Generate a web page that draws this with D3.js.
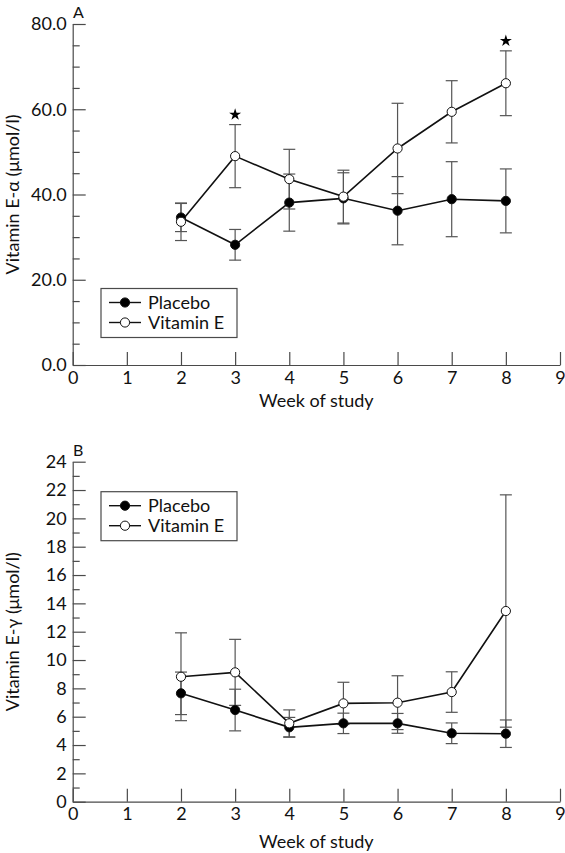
<!DOCTYPE html>
<html>
<head>
<meta charset="utf-8">
<script src="https://cdn.jsdelivr.net/npm/d3@7"></script>
<style>
  html, body { margin: 0; padding: 0; background: #fff; }
  svg { display: block; }
  text { font-family: Lato, "Open Sans", sans-serif; fill: #111; }
</style>
</head>
<body>
<script>
// ---- data ----
const weeks = [2, 3, 4, 5, 6, 7, 8];
const xTicks = [0, 1, 2, 3, 4, 5, 6, 7, 8, 9];

// Panel A: vitamin E-alpha (µmol/l), mean and SD
const alphaPlacebo   = [34.6, 28.2, 38.1, 39.1, 36.2, 38.9, 38.5];
const alphaPlaceboSD = [3.3, 3.6, 6.7, 6.0, 8.0, 8.8, 7.5];
const alphaVitE      = [33.6, 49.0, 43.6, 39.5, 50.8, 59.4, 66.1];
const alphaVitESD    = [4.4, 7.4, 7.0, 6.2, 10.6, 7.3, 7.6];
const alphaSignificantWeeks = [3, 8];
const alphaTicks = [0, 20, 40, 60, 80];
const alphaMinorTicks = [5, 10, 15, 25, 30, 35, 45, 50, 55, 65, 70, 75];

// Panel B: vitamin E-gamma (µmol/l), mean and SD
const gammaPlacebo   = [7.65, 6.47, 5.25, 5.53, 5.53, 4.83, 4.80];
const gammaPlaceboSD = [1.5, 1.47, 0.7, 0.72, 0.7, 0.73, 0.97];
const gammaVitE      = [8.82, 9.13, 5.53, 6.94, 6.99, 7.74, 13.46];
const gammaVitESD    = [3.1, 2.33, 0.95, 1.49, 1.9, 1.43, 8.2];
const gammaTicks = [0, 2, 4, 6, 8, 10, 12, 14, 16, 18, 20, 22, 24];
const gammaMinorTicks = [1, 3, 5, 7, 9, 11, 13, 15, 17, 19, 21, 23];

const seriesNames = ["Placebo", "Vitamin E"];

// ---- drawing ----
const W = 565, H = 853;
const svg = d3.select("body").append("svg").attr("width", W).attr("height", H);

const axisColor = "#4a4a4a";
const x = d3.scaleLinear().domain([0, 9]).range([72.7, 560]);

function panel(cfg) {
  const g = svg.append("g");
  const y = d3.scaleLinear().domain(cfg.domain).range(cfg.range);

  // minor ticks
  g.append("g").attr("transform", `translate(${x(0)},0)`)
    .call(d3.axisLeft(y).tickValues(cfg.minor).tickSize(-7).tickFormat(""))
    .call(s => s.select(".domain").remove())
    .call(s => s.selectAll("line").attr("stroke", axisColor).attr("stroke-width", 1.2));

  // major y axis
  g.append("g").attr("transform", `translate(${x(0)},0)`)
    .call(d3.axisLeft(y).tickValues(cfg.ticks).tickSizeInner(-13).tickSizeOuter(0)
      .tickPadding(6).tickFormat(cfg.fmt))
    .call(s => s.select(".domain").attr("stroke", axisColor).attr("stroke-width", 1.2))
    .call(s => s.selectAll("line").attr("stroke", axisColor).attr("stroke-width", 1.2))
    .call(s => s.selectAll("text").attr("font-size", 18).attr("fill", "#111")
      .attr("font-family", "Lato, sans-serif"));

  // x axis
  g.append("g").attr("transform", `translate(0,${y(0)})`)
    .call(d3.axisBottom(x).tickValues(xTicks).tickSizeInner(-13).tickSizeOuter(0)
      .tickPadding(6).tickFormat(d3.format("d")))
    .call(s => s.select(".domain").attr("stroke", axisColor).attr("stroke-width", 1.2))
    .call(s => s.selectAll("line").attr("stroke", axisColor).attr("stroke-width", 1.2))
    .call(s => s.selectAll("text").attr("font-size", 18).attr("fill", "#111")
      .attr("font-family", "Lato, sans-serif"));

  // axis titles
  g.append("text").attr("x", (x(0) + x(9)) / 2).attr("y", y(0) + cfg.titleOffset)
    .attr("text-anchor", "middle").attr("font-size", 18).text("Week of study");
  const ymid = (cfg.range[0] + cfg.range[1]) / 2;
  g.append("text").attr("transform", `translate(19,${ymid}) rotate(-90)`)
    .attr("text-anchor", "middle").attr("font-size", 18).text(cfg.ylabel);
  g.append("text").attr("x", 73).attr("y", cfg.range[1] - 6)
    .attr("font-size", 16).text(cfg.letter);

  const series = [
    { name: seriesNames[0], m: cfg.placebo, sd: cfg.placeboSD, fill: "#000" },
    { name: seriesNames[1], m: cfg.vite, sd: cfg.viteSD, fill: "#fff" }
  ];

  // error bars
  const eb = g.append("g").attr("stroke", "#555").attr("stroke-width", 1.2);
  series.forEach(s => {
    weeks.forEach((w, i) => {
      const lo = y(s.m[i] - s.sd[i]), hi = y(s.m[i] + s.sd[i]), cx = x(w);
      eb.append("line").attr("x1", cx).attr("x2", cx).attr("y1", lo).attr("y2", hi);
      eb.append("line").attr("x1", cx - 6).attr("x2", cx + 6).attr("y1", lo).attr("y2", lo);
      eb.append("line").attr("x1", cx - 6).attr("x2", cx + 6).attr("y1", hi).attr("y2", hi);
    });
  });

  // lines
  const line = d3.line().x(d => x(d[0])).y(d => y(d[1]));
  series.forEach(s => {
    g.append("path").datum(weeks.map((w, i) => [w, s.m[i]]))
      .attr("d", line).attr("fill", "none").attr("stroke", "#111").attr("stroke-width", 1.6);
  });
  // markers
  series.forEach(s => {
    g.selectAll(null).data(weeks.map((w, i) => [w, s.m[i]])).enter().append("circle")
      .attr("cx", d => x(d[0])).attr("cy", d => y(d[1])).attr("r", 4.6)
      .attr("fill", s.fill).attr("stroke", "#111").attr("stroke-width", 1);
  });

  // significance stars
  if (cfg.stars) {
    cfg.stars.forEach(w => {
      const i = weeks.indexOf(w);
      const top = y(cfg.vite[i] + cfg.viteSD[i]);
      g.append("path").attr("d", d3.symbol(d3.symbolStar, 45)())
        .attr("transform", `translate(${x(w)},${top - 10})`).attr("fill", "#000");
    });
  }

  // legend
  const lg = g.append("g").attr("transform", `translate(101,${cfg.legendTop})`);
  lg.append("rect").attr("width", 136).attr("height", 49)
    .attr("fill", "#fff").attr("stroke", axisColor).attr("stroke-width", 1.2);
  series.forEach((s, k) => {
    const yy = 14 + k * 20;
    lg.append("line").attr("x1", 8).attr("x2", 40).attr("y1", yy).attr("y2", yy)
      .attr("stroke", "#111").attr("stroke-width", 1.4);
    lg.append("circle").attr("cx", 24).attr("cy", yy).attr("r", 4.6)
      .attr("fill", s.fill).attr("stroke", "#111").attr("stroke-width", 1);
    lg.append("text").attr("x", 47).attr("y", yy + 6).attr("font-size", 18).text(s.name);
  });
}

panel({
  domain: [0, 80], range: [365, 24],
  ticks: alphaTicks, minor: alphaMinorTicks, fmt: d3.format(".1f"),
  placebo: alphaPlacebo, placeboSD: alphaPlaceboSD,
  vite: alphaVitE, viteSD: alphaVitESD,
  stars: alphaSignificantWeeks, titleOffset: 42,
  ylabel: "Vitamin E-\u03b1 (\u03bcmol/l)", letter: "A", legendTop: 288.5
});

panel({
  domain: [0, 24], range: [801.7, 461.7],
  ticks: gammaTicks, minor: gammaMinorTicks, fmt: d3.format("d"),
  placebo: gammaPlacebo, placeboSD: gammaPlaceboSD,
  vite: gammaVitE, viteSD: gammaVitESD,
  stars: null, titleOffset: 46,
  ylabel: "Vitamin E-\u03b3 (\u03bcmol/l)", letter: "B", legendTop: 491.7
});
</script>
</body>
</html>
